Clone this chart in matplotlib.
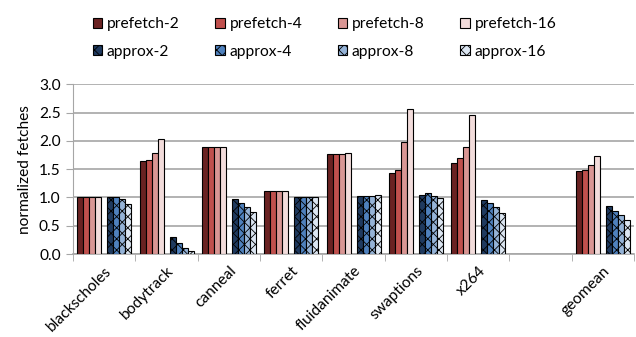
import numpy as np
import matplotlib
matplotlib.use("Agg")
import matplotlib.pyplot as plt

plt.rcParams["font.family"] = ["Lato", "DejaVu Sans"]
plt.rcParams["hatch.linewidth"] = 0.6

benchmarks = ["blackscholes", "bodytrack", "canneal", "ferret", "fluidanimate",
              "swaptions", "x264", "", "geomean"]

prefetch_labels = ["prefetch-2", "prefetch-4", "prefetch-8", "prefetch-16"]
approx_labels = ["approx-2", "approx-4", "approx-8", "approx-16"]

# one row per series, one column per benchmark (nan = empty slot)
nan = np.nan
prefetch = [
    [1.00, 1.64, 1.89, 1.11, 1.76, 1.43, 1.61, nan, 1.46],
    [1.00, 1.67, 1.89, 1.11, 1.76, 1.49, 1.69, nan, 1.48],
    [1.00, 1.78, 1.89, 1.11, 1.76, 1.98, 1.90, nan, 1.58],
    [1.00, 2.03, 1.89, 1.12, 1.78, 2.56, 2.45, nan, 1.74],
]
approx = [
    [1.00, 0.31, 0.98, 1.00, 1.03, 1.05, 0.95, nan, 0.85],
    [1.00, 0.19, 0.91, 1.00, 1.03, 1.08, 0.91, nan, 0.77],
    [0.98, 0.11, 0.84, 1.00, 1.03, 1.02, 0.84, nan, 0.69],
    [0.88, 0.06, 0.75, 1.00, 1.05, 0.99, 0.72, nan, 0.61],
]

prefetch_colors = ["#6a2222", "#c0504d", "#d99694", "#f2dcdb"]
approx_colors = ["#1f3a5f", "#4f81bd", "#95b3d7", "#dce6f2"]

fig = plt.figure(figsize=(6.36, 3.37), dpi=100)
ax = fig.add_axes([0.115, 0.246, 0.882, 0.504])

x = np.arange(len(benchmarks))
width = 0.096
handles = []
for i in range(4):
    hp = ax.bar(x - 0.24 + (i - 1.5) * width, prefetch[i], width,
                color=prefetch_colors[i], edgecolor="black", linewidth=0.8,
                label=prefetch_labels[i], zorder=3)
    ha = ax.bar(x + 0.24 + (i - 1.5) * width, approx[i], width,
                color=approx_colors[i], edgecolor="black", linewidth=0.8,
                hatch="xxx", label=approx_labels[i], zorder=3)
    handles += [hp, ha]

fs = 11.2
ax.set_xlim(-0.5, len(benchmarks) - 0.5)
ax.set_ylim(0, 3.0)
ax.set_yticks(np.arange(0, 3.01, 0.5))
ax.set_yticklabels([f"{v:.1f}" for v in np.arange(0, 3.01, 0.5)], fontsize=fs)
ax.yaxis.grid(True, color="#a6a6a6", linewidth=1.2, zorder=0)
ax.set_ylabel("normalized fetches", fontsize=fs, labelpad=5)

ax.set_xticks(x)
ax.set_xticklabels(benchmarks, rotation=45, ha="right", rotation_mode="anchor",
                   fontsize=fs)
ax.set_xticks(np.arange(-0.5, len(benchmarks)), minor=True)
ax.tick_params(axis="x", which="major", length=0, pad=7)
ax.tick_params(axis="x", which="minor", length=5, color="#a6a6a6")
ax.tick_params(axis="y", length=5, color="#a6a6a6", pad=4)

for side in ["top", "right"]:
    ax.spines[side].set_visible(False)
ax.spines["left"].set_color("#a6a6a6")
ax.spines["bottom"].set_color("#a6a6a6")
ax.spines["bottom"].set_linewidth(1.2)

fig.legend(handles=handles, loc="upper left", bbox_to_anchor=(0.124, 0.99),
           ncol=4, frameon=False, fontsize=fs, handlelength=0.6,
           handleheight=0.6, handletextpad=0.3, columnspacing=2.3,
           labelspacing=0.85)

fig.savefig("out.png", dpi=100)
